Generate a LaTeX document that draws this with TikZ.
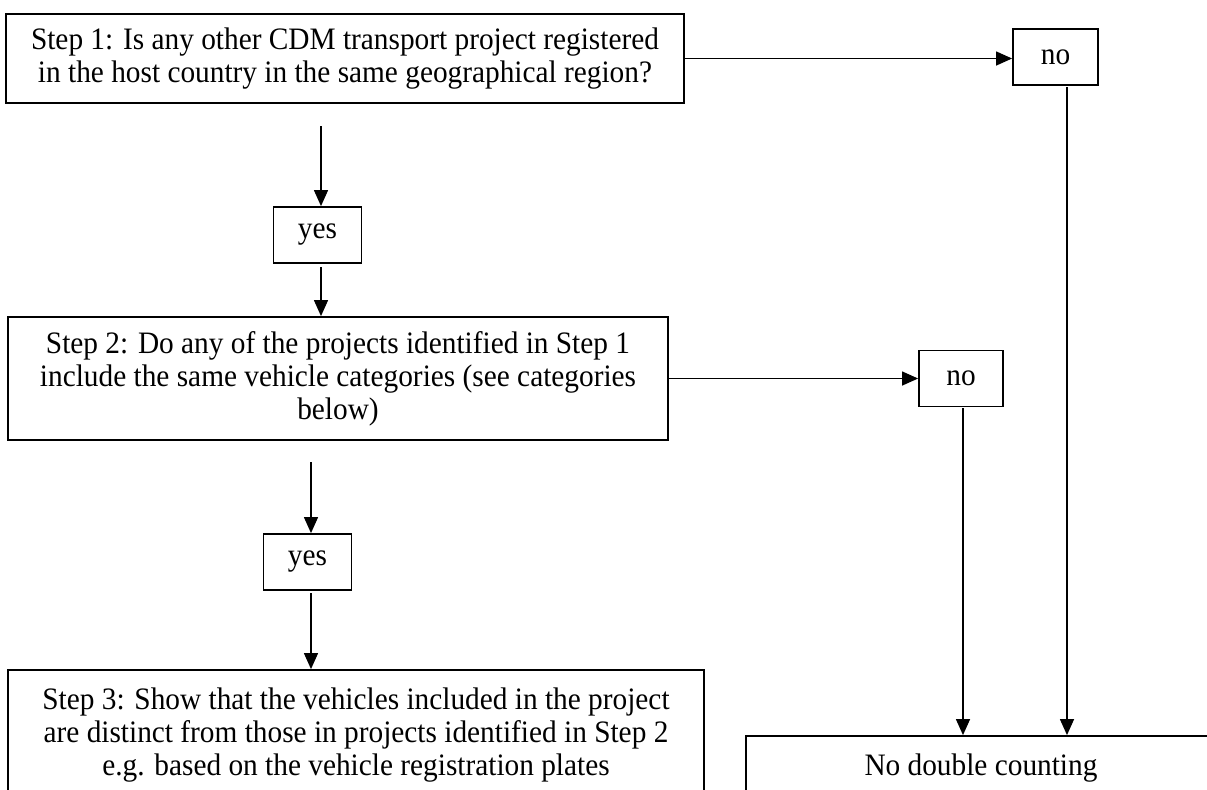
\documentclass[tikz,border=0pt]{standalone}
\usepackage{fontspec}
\setmainfont{Liberation Serif}[FakeStretch = 0.94]
\usetikzlibrary{arrows.meta, calc}

\tikzset{
    stepbox/.style = {rectangle, draw = black, line width = 0.9pt, align = center, inner sep = 0pt, font = \fontsize{15.6}{16.5}\selectfont},
    answer/.style = {rectangle, draw = black, line width = 0.9pt, inner sep = 0pt, minimum width = 44pt, minimum height = 28pt, font = \fontsize{15.6}{16.5}\selectfont},
    flow/.style = {line width = 0.65pt, -{Triangle[length = 8pt, width = 7pt]}}
}

\begin{document}
\begin{tikzpicture}[x = 0.5pt, y = -0.5pt]
        \useasboundingbox (0, 0) rectangle (1207, 789);
        \clip (0, 0) rectangle (1207, 789);

        \node (step1) [stepbox, minimum width = 339pt, minimum height = 44.5pt] at (345, 58.5) {Step 1: Is any other CDM transport project registered\\in the host country in the same geographical region?};
        \node (no1) [answer, minimum width = 42.5pt] at (1055.5, 57) {no};
        \node (yes1) [answer] at (317.5, 235) {yes};
        \node (step2) [stepbox, minimum width = 330pt, minimum height = 61.5pt] at (338, 378.5) {Step 2: Do any of the projects identified in Step 1\\include the same vehicle categories (see categories\\below)};
        \node (no2) [answer, minimum width = 42pt] at (961, 378.5) {no};
        \node (yes2) [answer] at (307.5, 562) {yes};
        \node (step3) [stepbox, minimum width = 348pt, minimum height = 65pt] at (356, 735) {Step 3: Show that the vehicles included in the project\\are distinct from those in projects identified in Step 2\\e.g. based on the vehicle registration plates};
        \node (nodbl) [stepbox, minimum width = 235pt, minimum height = 32pt] at (981, 768) {No double counting};

        \coordinate (s1out) at (321, 126);
        \coordinate (y1out) at (321, 267);
        \coordinate (s2out) at (311, 462);
        \coordinate (y2out) at (311, 593);
        \coordinate (no1out) at (1067, 87);
        \coordinate (no2out) at (963, 408);

        \draw [flow] (s1out) -- (s1out |- yes1.north);
        \draw [flow] (y1out) -- (y1out |- step2.north);
        \draw [flow] (step1.east) -- (step1.east -| no1.west);
        \draw [flow] (step2.east) -- (step2.east -| no2.west);
        \draw [flow] (s2out) -- (s2out |- yes2.north);
        \draw [flow] (y2out) -- (y2out |- step3.north);
        \draw [flow] (no1out) -- (no1out |- nodbl.north);
        \draw [flow] (no2out) -- (no2out |- nodbl.north);
    \end{tikzpicture}
\end{document}
